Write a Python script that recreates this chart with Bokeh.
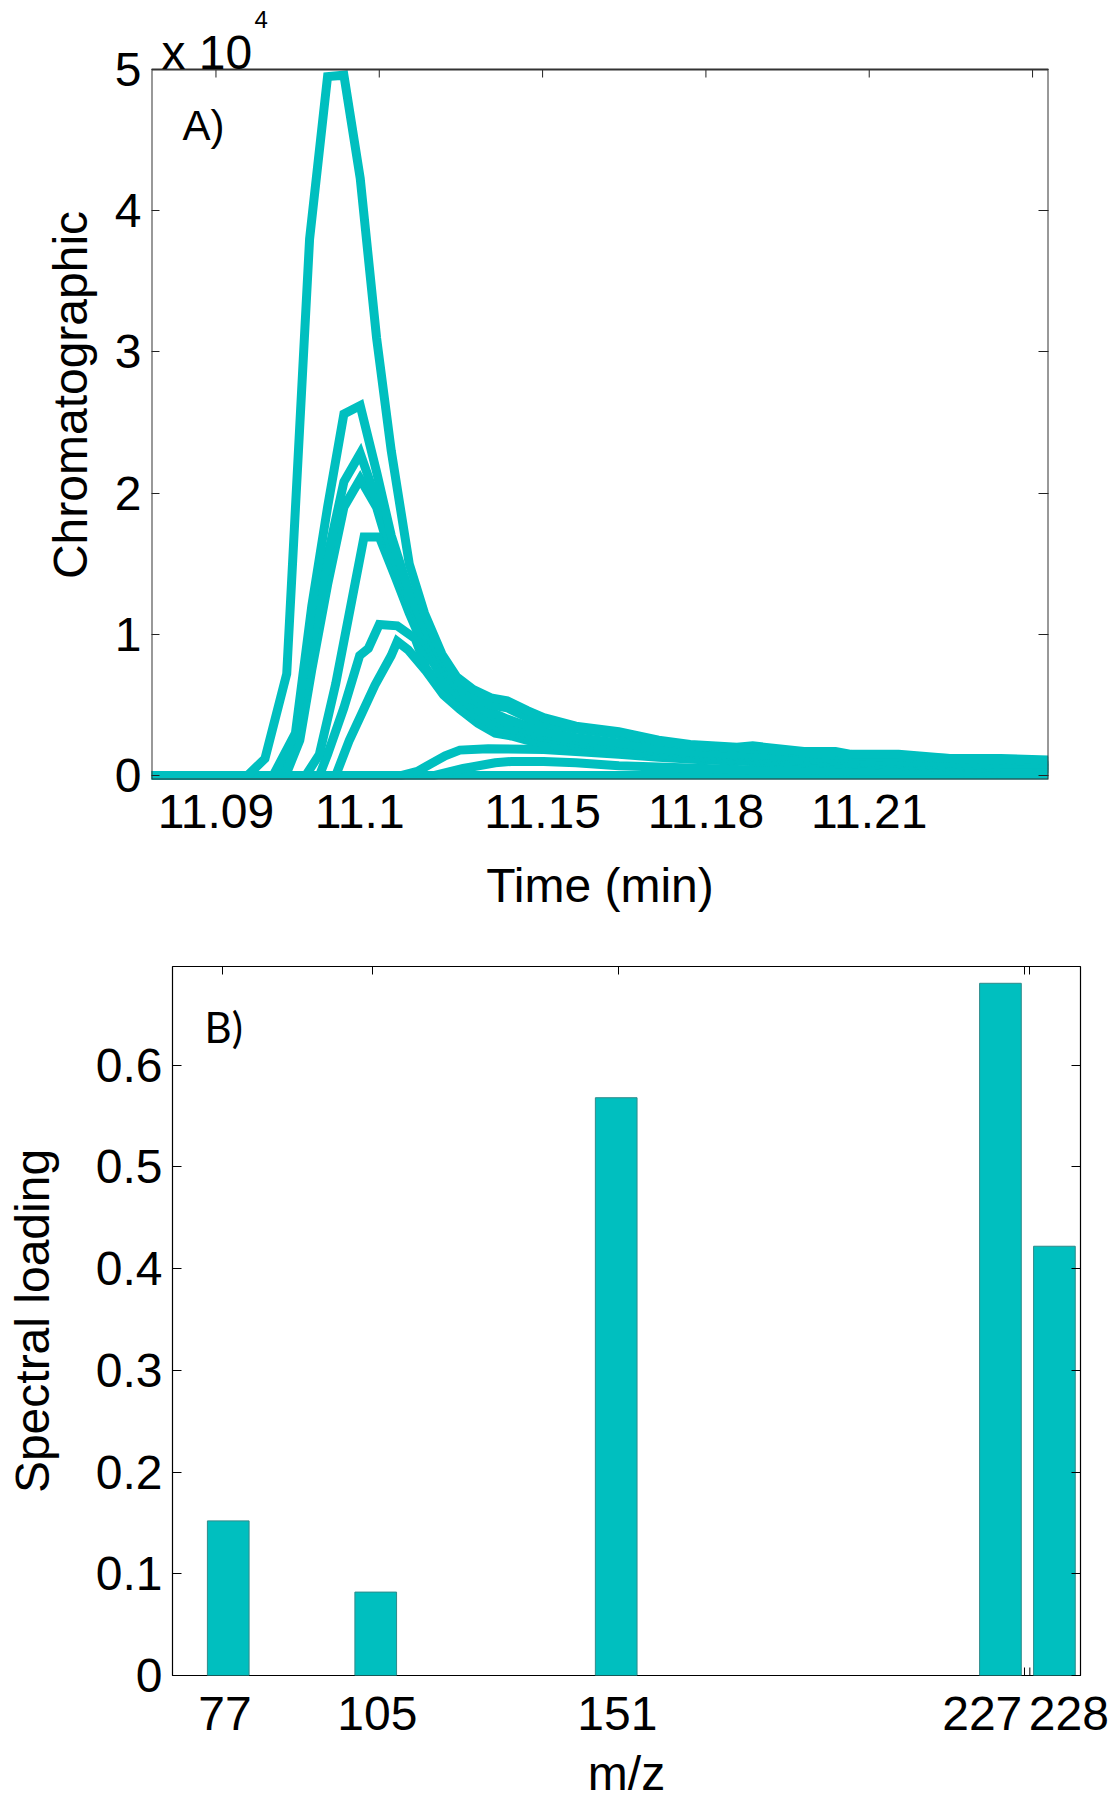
import math
from bokeh.plotting import figure
from bokeh.models import FixedTicker, LinearAxis, Label, Range1d, ColumnDataSource, BoxAnnotation
from bokeh.embed import file_html
from bokeh.resources import INLINE

# ---------------- Panel A data: chromatographic profiles (counts) ----------------
t_c1 = [11.0782, 11.0958, 11.0990, 11.1030, 11.1072, 11.1105, 11.1135, 11.1165, 11.1195, 11.1222,
        11.1255, 11.1283, 11.1315, 11.1342, 11.1372, 11.1405, 11.1435, 11.1472, 11.1502, 11.1561,
        11.1640, 11.1713, 11.1771, 11.1857, 11.1886, 11.1980, 11.2038, 11.2067, 11.2154, 11.2248,
        11.2342, 11.2429]
y_c1 = [0, 0, 1200, 7200, 38000, 49500, 49600, 42300, 31000, 23000,
        15000, 11500, 8600, 7000, 6100, 5500, 5300, 4600, 4100, 3500,
        3100, 2500, 2200, 2000, 2100, 1700, 1700, 1500, 1500, 1200,
        1200, 1100]

t_c2 = [11.0782, 11.1005, 11.1046, 11.1076, 11.1105, 11.1135, 11.1165, 11.1195, 11.1222, 11.1255,
        11.1283, 11.1315, 11.1342, 11.1372, 11.1405, 11.1435, 11.1472, 11.1502, 11.1561, 11.1640,
        11.1713, 11.1800, 11.1886, 11.1980, 11.2067, 11.2154, 11.2248, 11.2342, 11.2429]
y_c2 = [0, 0, 3000, 12000, 19000, 25600, 26200, 21500, 17000, 13000,
        10500, 8200, 6800, 5700, 5000, 4800, 4100, 3700, 3300, 2900,
        2400, 2000, 1900, 1600, 1400, 1300, 1200, 1100, 1000]

t_c3 = [11.0782, 11.1015, 11.1046, 11.1076, 11.1105, 11.1135, 11.1165, 11.1195, 11.1222, 11.1255,
        11.1283, 11.1315, 11.1342, 11.1372, 11.1405, 11.1435, 11.1472, 11.1502, 11.1561, 11.1640,
        11.1713, 11.1800, 11.1886, 11.1980, 11.2067, 11.2154, 11.2248, 11.2342, 11.2429]
y_c3 = [0, 0, 2000, 9000, 15500, 20800, 22800, 19500, 16000, 12500,
        10000, 7900, 6500, 5400, 4500, 4000, 3500, 3100, 2700, 2300,
        1900, 1600, 1500, 1300, 1200, 1000, 900, 800, 800]

t_c4 = [11.0782, 11.1028, 11.1054, 11.1076, 11.1105, 11.1135, 11.1165, 11.1195, 11.1222, 11.1255,
        11.1283, 11.1315, 11.1342, 11.1372, 11.1405, 11.1435, 11.1472, 11.1502, 11.1561, 11.1640,
        11.1713, 11.1800, 11.1886, 11.1980, 11.2067, 11.2154, 11.2248, 11.2342, 11.2429]
y_c4 = [0, 0, 2500, 7500, 13500, 19000, 21000, 19000, 15500, 12000,
        9500, 7600, 6300, 5200, 4300, 3700, 3200, 2900, 2500, 2100,
        1800, 1600, 1400, 1200, 1100, 1000, 900, 800, 700]

t_c5 = [11.0782, 11.1065, 11.1090, 11.1120, 11.1150, 11.1172, 11.1200, 11.1230, 11.1255, 11.1283,
        11.1315, 11.1342, 11.1372, 11.1405, 11.1435, 11.1472, 11.1502, 11.1561, 11.1640, 11.1713,
        11.1800, 11.1886, 11.1980, 11.2067, 11.2154, 11.2248, 11.2342, 11.2429]
y_c5 = [0, 0, 1500, 6500, 12500, 16900, 16900, 14000, 11500, 9000,
        7000, 5800, 4800, 4000, 3400, 3000, 2700, 2300, 2000, 1700,
        1500, 1300, 1100, 1000, 900, 800, 700, 700]

t_c6 = [11.0782, 11.1090, 11.1105, 11.1135, 11.1164, 11.1180, 11.1200, 11.1233, 11.1266, 11.1286,
        11.1318, 11.1350, 11.1384, 11.1413, 11.1443, 11.1472, 11.1502, 11.1561, 11.1640, 11.1713,
        11.1800, 11.1886, 11.1980, 11.2067, 11.2154, 11.2248, 11.2342, 11.2429]
y_c6 = [0, 0, 1500, 4800, 8500, 9000, 10700, 10600, 9700, 7600,
        6000, 4900, 4100, 3500, 3100, 2800, 2500, 2100, 1800, 1500,
        1300, 1100, 1000, 900, 800, 700, 600, 600]

t_c7 = [11.0782, 11.1120, 11.1145, 11.1192, 11.1222, 11.1233, 11.1253, 11.1286, 11.1318, 11.1348,
        11.1381, 11.1413, 11.1443, 11.1472, 11.1502, 11.1561, 11.1640, 11.1713, 11.1800, 11.1886,
        11.1980, 11.2067, 11.2154, 11.2248, 11.2342, 11.2429]
y_c7 = [0, 0, 2500, 6400, 8500, 9500, 8900, 7400, 5700, 4700,
        3700, 3000, 2800, 2500, 2300, 1900, 1600, 1400, 1200, 1000,
        900, 800, 700, 600, 500, 500]

t_c8 = [11.0782, 11.1240, 11.1270, 11.1321, 11.1348, 11.1400, 11.1502, 11.1561, 11.1640, 11.1713,
        11.1800, 11.1886, 11.1980, 11.2067, 11.2154, 11.2248, 11.2342, 11.2429]
y_c8 = [0, 0, 300, 1400, 1800, 1900, 1850, 1700, 1500, 1300,
        1100, 1000, 900, 800, 700, 600, 500, 500]

t_c9 = [11.0782, 11.1300, 11.1354, 11.1413, 11.1443, 11.1502, 11.1561, 11.1640, 11.1713, 11.1800,
        11.1886, 11.1980, 11.2067, 11.2154, 11.2248, 11.2342, 11.2429]
y_c9 = [0, 0, 500, 900, 1000, 1000, 900, 700, 600, 500,
        400, 400, 300, 300, 300, 200, 200]

t_c10 = [11.0782, 11.2429]
y_c10 = [0, 0]

time_ticks = [11.09, 11.12, 11.15, 11.18, 11.21, 11.24]
time_label_pos = [11.09, 11.1164, 11.15, 11.18, 11.21]
time_labels = ["11.09", "11.1", "11.15", "11.18", "11.21"]
intensity_ticks = [0, 10000, 20000, 30000, 40000, 50000]
intensity_labels = ["0", "1", "2", "3", "4", "5"]

# ---------------- Panel B data: spectral loadings ----------------
mz = [77, 105, 151, 227, 228]
loading = [0.152, 0.082, 0.568, 0.6805, 0.422]
mz_labels = ["77", "105", "151", "227", "228"]
bar_shift = [1.0, 0.6, -0.4, -4.5, 4.6]            # layout: side-by-side placement of 227/228
mz_label_pos = [77.4, 105.9, 150.8, 219.1, 235.3]  # layout: where tick labels sit
loading_ticks = [0, 0.1, 0.2, 0.3, 0.4, 0.5, 0.6]
loading_labels = ["0", "0.1", "0.2", "0.3", "0.4", "0.5", "0.6"]

CYAN = "#00BFBF"
FONT = "Liberation Sans"


def style_axis(ax, ticks, tick_in, labels=None, label_pos=None, size="48px", standoff=10,
               tick_color="#222222"):
    ax.ticker = FixedTicker(ticks=label_pos if label_pos is not None else ticks)
    ax.axis_line_color = None
    ax.minor_tick_line_color = None
    ax.major_tick_in = tick_in
    ax.major_tick_out = 0
    ax.major_tick_line_color = tick_color if tick_in else None
    ax.major_tick_line_width = 1
    if labels is None:
        ax.major_label_text_font_size = "0px"
        ax.major_label_overrides = {k: "" for k in ticks}
        ax.major_label_standoff = 0
    else:
        pos = label_pos if label_pos is not None else ticks
        ax.major_label_overrides = {k: s for k, s in zip(pos, labels)}
        ax.major_label_text_font = FONT
        ax.major_label_text_font_size = size
        ax.major_label_text_color = "black"
        ax.major_label_standoff = standoff


def style_label(ax, text, standoff):
    ax.axis_label = text
    ax.axis_label_text_font = FONT
    ax.axis_label_text_font_size = "48px"
    ax.axis_label_text_font_style = "normal"
    ax.axis_label_text_color = "black"
    ax.axis_label_standoff = standoff


# ================= Panel A =================
# layout: frame extends 59 px above the 5e4 line so the "x 10^4" multiplier can sit there
A_H, A_TOP, A_BOTTOM, HEADROOM = 930, 10, 151, 59
x0A, x1A, y0A, ymaxA = 11.07816, 11.24293, -280, 50000
per_px = (ymaxA - y0A) / (A_H - A_TOP - A_BOTTOM - HEADROOM)
y1A = ymaxA + HEADROOM * per_px

pA = figure(width=1118, height=A_H, output_backend="svg", toolbar_location=None,
            x_range=Range1d(x0A, x1A), y_range=Range1d(y0A, y1A),
            min_border_left=151, min_border_right=70, min_border_top=A_TOP,
            min_border_bottom=A_BOTTOM)
pA.grid.visible = False
pA.outline_line_color = None
pA.background_fill_color = "white"
pA.border_fill_color = "white"

curves = [(t_c10, y_c10), (t_c9, y_c9), (t_c8, y_c8), (t_c7, y_c7), (t_c6, y_c6),
          (t_c5, y_c5), (t_c4, y_c4), (t_c3, y_c3), (t_c2, y_c2), (t_c1, y_c1)]
for tt, yy in curves:
    pA.line(tt, yy, line_color=CYAN, line_width=9, line_join="miter")

# axes box (drawn up to the 5e4 line) and top tick marks
pA.add_layout(BoxAnnotation(left=x0A, right=x1A, bottom=y0A, top=ymaxA,
                            fill_alpha=0, line_color="#333333", line_alpha=1.0, line_width=2))
pA.ray(x=time_ticks, y=[ymaxA] * len(time_ticks), length=8, length_units="screen",
       angle=-math.pi / 2, line_color="#222222", line_width=1)

xb = pA.xaxis[0]
style_axis(xb, time_ticks, 0, labels=time_labels, label_pos=time_label_pos, standoff=15)
style_label(xb, "Time (min)", 28)

yl = pA.yaxis[0]
style_axis(yl, intensity_ticks, 8, labels=intensity_labels, standoff=10)
style_label(yl, "Chromatographic", 15)

right_a = LinearAxis()
style_axis(right_a, intensity_ticks, 10)
pA.add_layout(right_a, "right")

pA.add_layout(Label(x=x0A, y=ymaxA, x_offset=10, y_offset=17, text="x 10",
                    text_font=FONT, text_font_size="48px", text_baseline="alphabetic",
                    text_color="black"))
pA.add_layout(Label(x=x0A, y=ymaxA, x_offset=103, y_offset=50, text="4",
                    text_font=FONT, text_font_size="24px", text_baseline="alphabetic",
                    text_color="black"))
pA.add_layout(Label(x=x0A, y=ymaxA, x_offset=31, y_offset=-56, text="A)",
                    text_font=FONT, text_font_size="42px", text_baseline="alphabetic",
                    text_color="black"))

# ================= Panel B =================
pB = figure(width=1118, height=872, output_backend="svg", toolbar_location=None,
            x_range=Range1d(67.57, 237.48), y_range=Range1d(0, 0.697),
            min_border_left=172, min_border_right=38, min_border_top=36, min_border_bottom=120)
pB.grid.visible = False
pB.outline_line_color = "black"
pB.outline_line_width = 1.2
pB.background_fill_color = "white"
pB.border_fill_color = "white"

# bottom inward tick marks (hidden behind the bars except between 227/228)
pB.ray(x=mz, y=[0] * len(mz), length=8, length_units="screen", angle=math.pi / 2,
       line_color="black", line_width=1)

src = ColumnDataSource(dict(x=[m + s for m, s in zip(mz, bar_shift)], top=loading))
pB.vbar(x="x", top="top", bottom=0, width=7.8, source=src,
        fill_color=CYAN, line_color="#2E8A8A", line_width=1)

xbB = pB.xaxis[0]
style_axis(xbB, mz, 0, labels=mz_labels, label_pos=mz_label_pos, standoff=21)
style_label(xbB, "m/z", 14)

ylB = pB.yaxis[0]
style_axis(ylB, loading_ticks, 9, labels=loading_labels, standoff=10, tick_color="black")
style_label(ylB, "Spectral loading", 34)

top_b = LinearAxis()
style_axis(top_b, mz, 8, tick_color="black")
pB.add_layout(top_b, "above")
right_b = LinearAxis()
style_axis(right_b, loading_ticks, 9, tick_color="black")
pB.add_layout(right_b, "right")

pB.add_layout(Label(x=67.57, y=0.697, x_offset=32, y_offset=-60, text="B)",
                    text_font="Lato", text_font_size="42px", text_baseline="alphabetic",
                    text_color="black"))

open("out.html", "w").write(file_html([pA, pB], INLINE))
